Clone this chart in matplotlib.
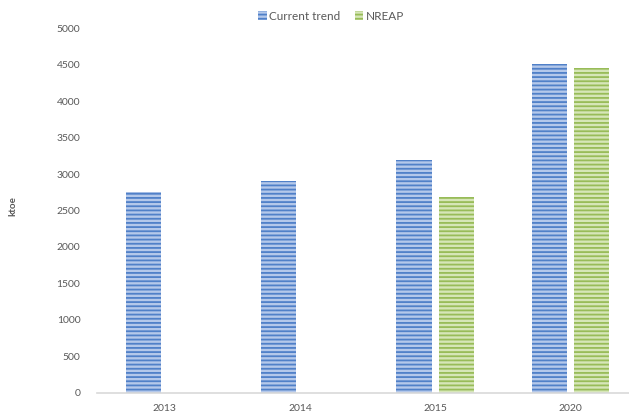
import matplotlib
matplotlib.use("Agg")
import matplotlib.pyplot as plt
import numpy as np

years = ["2013", "2014", "2015", "2020"]
current_trend = [2760, 2900, 3200, 4510]
nreap = [np.nan, np.nan, 2680, 4460]

plt.rcParams["font.family"] = ["Lato", "DejaVu Sans"]
plt.rcParams["hatch.linewidth"] = 1.3

blue_face, blue_line = "#b4c8ea", "#5080c8"
green_face, green_line = "#d6e6b8", "#98bc58"
text_grey = "#595959"

fig = plt.figure(figsize=(6.29, 4.13), dpi=100)
ax = fig.add_axes([97 / 629, 20.5 / 413, 541 / 629, 364 / 413])

x = np.arange(len(years))
w = 0.262
off = 0.156

ax.bar(x - off, current_trend, w, color=blue_face, edgecolor=blue_line,
       linewidth=0, hatch="----", label="Current trend")
ax.bar(x + off, nreap, w, color=green_face, edgecolor=green_line,
       linewidth=0, hatch="----", label="NREAP")

ax.set_xlim(-0.5, len(years) - 0.5)
ax.set_ylim(0, 5000)
ax.set_yticks(np.arange(0, 5001, 500))
ax.set_xticks(x)
ax.set_xticklabels(years)
ax.tick_params(length=0, labelsize=7.5, colors=text_grey)
ax.tick_params(axis="y", pad=12)
ax.tick_params(axis="x", pad=8)

for side in ["top", "right", "left"]:
    ax.spines[side].set_visible(False)
ax.spines["bottom"].set_color("#d9d9d9")
ax.spines["bottom"].set_linewidth(1.2)

fig.text(13 / 629, 0.5, "ktoe", rotation=90, fontsize=7, fontweight="bold",
         color=text_grey, ha="center", va="center")

fig.legend(loc="center", bbox_to_anchor=(331 / 629, 1 - 16 / 413), ncol=2,
           frameon=False, fontsize=8.5, handlelength=0.75, handleheight=0.75,
           handletextpad=0.2, columnspacing=1.2, labelcolor=text_grey)

fig.savefig("out.png", dpi=100)
